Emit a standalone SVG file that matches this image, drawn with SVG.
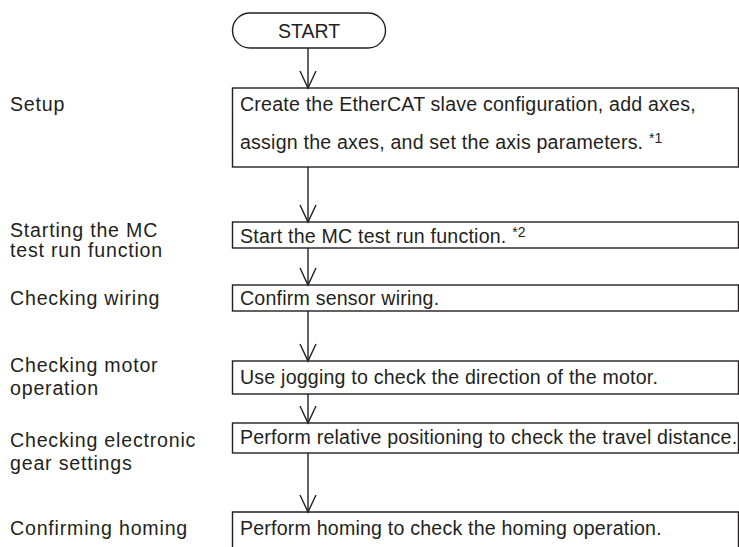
<svg xmlns="http://www.w3.org/2000/svg" width="739" height="547" viewBox="0 0 739 547">
<style>
  .box { fill: #ffffff; stroke: #231f20; stroke-width: 1.4; }
  .t { font-family: "Liberation Sans", Arial, sans-serif; font-size: 19.6px; fill: #231f20; letter-spacing: 0.2px; }
  .lbl { font-family: "Liberation Sans", Arial, sans-serif; font-size: 19.6px; fill: #231f20; letter-spacing: 0.8px; }
  .sup { font-size: 14px; }
  .conn line, .conn polyline { stroke: #231f20; stroke-width: 1.4; fill: none; }
</style>
<rect width="739" height="547" fill="#ffffff"/>

<g id="start">
  <rect class="box" x="232.5" y="13" width="153" height="35" rx="17.5" ry="17.5"/>
  <text class="t" x="309" y="38" text-anchor="middle" style="font-size:19.5px;letter-spacing:0">START</text>
</g>

<g id="setup">
  <rect class="box" x="232.5" y="88" width="506" height="79"/>
  <text class="t" x="240" y="111">Create the EtherCAT slave configuration, add axes,</text>
  <text class="t" x="240" y="149">assign the axes, and set the axis parameters. <tspan class="sup" dy="-6">*1</tspan></text>
</g>

<g id="mc-test-run">
  <rect class="box" x="232.5" y="222" width="506" height="26"/>
  <text class="t" x="240" y="243">Start the MC test run function. <tspan class="sup" dy="-6">*2</tspan></text>
</g>

<g id="wiring">
  <rect class="box" x="232.5" y="285" width="506" height="26"/>
  <text class="t" x="240" y="305">Confirm sensor wiring.</text>
</g>

<g id="motor">
  <rect class="box" x="232.5" y="361" width="506" height="33"/>
  <text class="t" x="240" y="384">Use jogging to check the direction of the motor.</text>
</g>

<g id="gear">
  <rect class="box" x="232.5" y="423" width="506" height="30"/>
  <text class="t" x="240" y="444">Perform relative positioning to check the travel distance.</text>
</g>

<g id="homing">
  <polyline class="box" points="232.5,548 232.5,512 738.5,512 738.5,548"/>
  <text class="t" x="240" y="535">Perform homing to check the homing operation.</text>
</g>

<g id="labels">
  <text class="lbl" x="10" y="236.5">Starting the MC</text>
  <text class="lbl" x="10" y="256.5">test run function</text>
  <text class="lbl" x="10" y="111">Setup</text>
  <text class="lbl" x="10" y="305">Checking wiring</text>
  <text class="lbl" x="10" y="372">Checking motor</text>
  <text class="lbl" x="10" y="395">operation</text>
  <text class="lbl" x="10" y="447">Checking electronic</text>
  <text class="lbl" x="10" y="470">gear settings</text>
  <text class="lbl" x="10" y="535">Confirming homing</text>
</g>

<g class="conn" id="connectors">
  <line x1="308" y1="48" x2="308" y2="88"/>
  <polyline points="300,71 308,88 316,71"/>
  <line x1="308" y1="167" x2="308" y2="222"/>
  <polyline points="300,205 308,222 316,205"/>
  <line x1="308" y1="248" x2="308" y2="285"/>
  <polyline points="300,268 308,285 316,268"/>
  <line x1="308" y1="311" x2="308" y2="361"/>
  <polyline points="300,344 308,361 316,344"/>
  <line x1="308" y1="394" x2="308" y2="423"/>
  <polyline points="300,406 308,423 316,406"/>
  <line x1="308" y1="453" x2="308" y2="512"/>
  <polyline points="300,495 308,512 316,495"/>
</g>
</svg>
